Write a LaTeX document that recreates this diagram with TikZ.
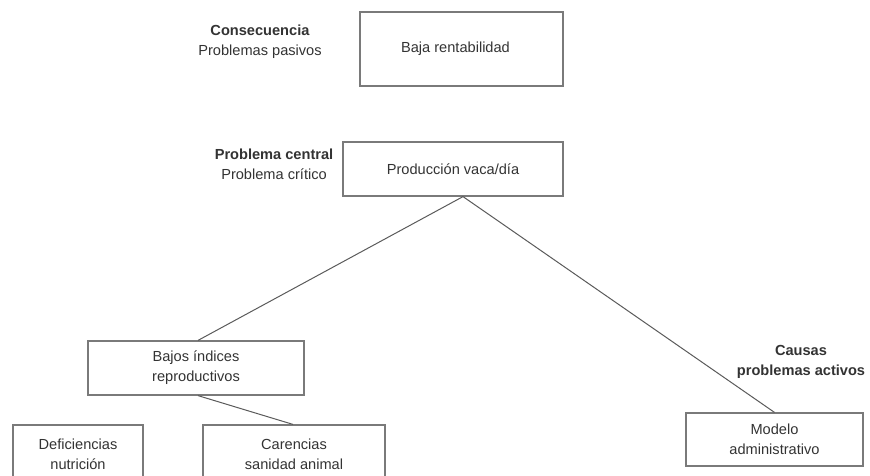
\documentclass[tikz,border=0pt]{standalone}
\usepackage{fontspec}
\setmainfont{Liberation Sans}
\definecolor{txt}{HTML}{333333}
\definecolor{boxc}{HTML}{7A7A7A}
\definecolor{linec}{HTML}{5A5A5A}
\begin{document}
\begin{tikzpicture}[x=1pt,y=-1pt,
  every node/.style={font=\fontsize{14.6}{20}\selectfont, text=txt, align=center, inner sep=0pt},
  box/.style={draw=boxc, line width=1.2pt, rectangle},
  conn/.style={draw=linec, line width=1pt},
  lbl/.style={}]
\useasboundingbox (0,0) rectangle (870,475);
\clip (0,0) rectangle (870,475);
% labels
\node[lbl] (conslbl) at (260,42) {\textbf{Consecuencia}\\Problemas pasivos};
\node[lbl] (centlbl) at (274,164) {\textbf{Problema central}\\Problema crítico};
\node[lbl] (causlbl) at (801,362) {\textbf{Causas}\\\textbf{problemas activos}};
% boxes
\node[box, minimum width=203, minimum height=74] (baja) at (461.5,49) {Baja rentabilidad\hspace*{12pt}};
\node[box, minimum width=220, minimum height=54] (prod) at (453,169) {Producción vaca/día};
\node[box, minimum width=216, minimum height=54] (bajos) at (196,368) {Bajos índices\\reproductivos};
\node[box, minimum width=130, minimum height=58] (defic) at (78,454) {Deficiencias\\nutrición};
\node[box, minimum width=182, minimum height=58] (caren) at (294,454) {Carencias\\sanidad animal};
\node[box, minimum width=177, minimum height=53] (model) at (774.5,439.5) {Modelo\\administrativo};
% connectors
\draw[conn] ([xshift=10pt]prod.south) -- ([xshift=2pt]bajos.north);
\draw[conn] ([xshift=10pt]prod.south) -- (model.north);
\draw[conn] ([xshift=2pt]bajos.south) -- ([xshift=-1pt]caren.north);
\end{tikzpicture}
\end{document}
